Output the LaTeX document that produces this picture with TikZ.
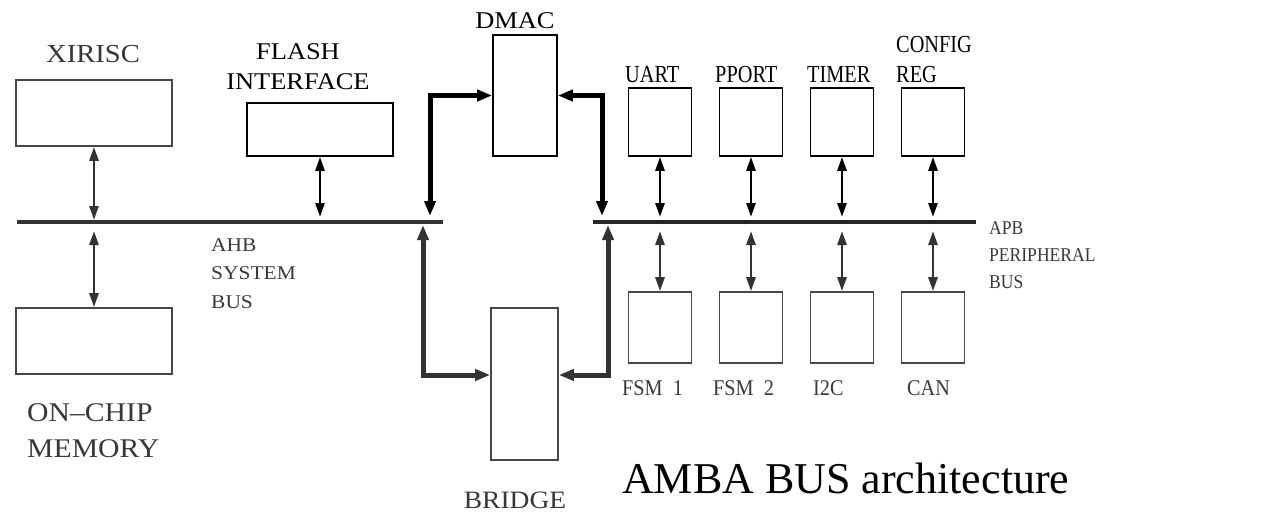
\documentclass[tikz,border=0pt]{standalone}
\usepackage{fontspec}
\setmainfont{Liberation Serif}
\newfontfamily\lblfont[FakeStretch=1.1]{Liberation Serif}
\newfontfamily\rightfont[FakeStretch=0.9]{Liberation Serif}
\newfontfamily\topfont[FakeStretch=0.83]{Liberation Serif}
\usetikzlibrary{arrows.meta, positioning}
\tikzset{
    base/.style = {draw=black, line width=1.6pt, inner sep=0pt},
    % Blocks
    block/.style     = {base, fill=white},
    grayblock/.style = {base, draw=black!72},
    % Texts
    lbl/.style     = {inner sep=0pt, align=left, font=\lblfont\fontsize{24}{30}\selectfont},
    graylbl/.style = {lbl, text=black!78},
    buslbl/.style  = {graylbl, font=\lblfont\fontsize{19.5}{28.5}\selectfont},
    periph/.style  = {lbl, anchor=base west, font=\topfont\fontsize{24.5}{30}\selectfont},
    fsmlbl/.style  = {graylbl, anchor=base west, font=\rightfont\fontsize{22.5}{30}\selectfont},
    % Edges
    bus/.style  = {line width=4pt},
    link/.style = {line width=2.6pt, {Triangle[length=14pt,width=9pt]}-{Triangle[length=14pt,width=9pt]}},
    wide/.style = {line width=5pt, {Triangle[length=15pt,width=11pt]}-{Triangle[length=15pt,width=11pt]}}
}

\begin{document}
\begin{tikzpicture}[x=1pt, y=-1pt]
    \useasboundingbox (0,0) rectangle (1266,520);

    % Buses
    \coordinate (ahbW) at (17,222);
    \coordinate (ahbE) at (443,222);
    \coordinate (apbW) at (593,222);
    \coordinate (apbE) at (976,222);
    \draw [bus, black!80] (ahbW) -- (ahbE);
    \draw [bus, black!85] (apbW) -- (apbE);

    % AHB side
    \node (xirisc) [grayblock, minimum width=156pt, minimum height=66pt] at (94,113) {};
    \node (memory) [grayblock, minimum width=156pt, minimum height=66pt] at (94,341) {};
    \node (flash)  [block, minimum width=146pt, minimum height=53pt] at (320,129.5) {};
    \node (dmac)   [block, minimum width=64pt, minimum height=121pt] at (525,95.5) {};
    \node (bridge) [grayblock, minimum width=67pt, minimum height=152pt] at (524.5,384) {};

    % APB side
    \node (uart)   [block, minimum width=63pt, minimum height=68pt] at (660,122) {};
    \node (pport)  [block, minimum width=63pt, minimum height=68pt] at (751,122) {};
    \node (timer)  [block, minimum width=63pt, minimum height=68pt] at (842,122) {};
    \node (config) [block, minimum width=63pt, minimum height=68pt] at (933,122) {};
    \node (fsma)   [grayblock, minimum width=63pt, minimum height=71pt] at (660,327.5) {};
    \node (fsmb)   [grayblock, minimum width=63pt, minimum height=71pt] at (751,327.5) {};
    \node (iic)    [grayblock, minimum width=63pt, minimum height=71pt] at (842,327.5) {};
    \node (can)    [grayblock, minimum width=63pt, minimum height=71pt] at (933,327.5) {};

    % Labels
    \node (xiriscL) [graylbl, anchor=base, font=\lblfont\fontsize{26}{30}\selectfont] at (93,62) {XIRISC};
    \node (flashL)  [lbl, anchor=north, align=center] at (298,43) {FLASH\\INTERFACE};
    \node (dmacL)   [lbl, anchor=base, font=\lblfont\fontsize{24}{30}\selectfont] at (515,28) {DMAC};
    \node (uartL)   [periph] at (625,82) {UART};
    \node (pportL)  [periph] at (715,82) {PPORT};
    \node (timerL)  [periph] at (807,82) {TIMER};
    \node (configL) [periph, anchor=north west] at (896,36) {CONFIG\\REG};
    \node (ahbL)    [buslbl, anchor=north west] at (211,238) {AHB\\SYSTEM\\BUS};
    \node (apbL)    [buslbl, anchor=north west, font=\rightfont\fontsize{19.5}{27}\selectfont] at (989,221) {APB\\PERIPHERAL\\BUS};
    \node (memoryL) [graylbl, anchor=north west, font=\lblfont\fontsize{27}{36.5}\selectfont] at (27,403) {ON–CHIP\\MEMORY};
    \node (bridgeL) [graylbl, anchor=base, font=\lblfont\fontsize{25}{30}\selectfont] at (515,508) {BRIDGE};
    \node (fsmaL)   [fsmlbl] at (622,395) {FSM\ \ 1};
    \node (fsmbL)   [fsmlbl] at (713,395) {FSM\ \ 2};
    \node (iicL)    [fsmlbl] at (813,395) {I2C};
    \node (canL)    [fsmlbl] at (907,395) {CAN};
    \node (title)   [inner sep=0pt, anchor=base west, font=\fontsize{44}{50}\selectfont] at (622,493) {AMBA BUS architecture};

    % Edges to the AHB bus
    \draw [link, black!80] (xirisc.south) -- ([yshift=2pt]xirisc.south |- ahbW);
    \draw [link, black!80] ([yshift=-9pt]memory.north |- ahbW) -- (memory.north);
    \draw [link] (flash.south) -- ([yshift=5pt]flash.south |- ahbW);

    % Edges to the APB bus
    \draw [link] (uart.south)   -- ([yshift=5pt]uart.south |- apbW);
    \draw [link] (pport.south)  -- ([yshift=5pt]pport.south |- apbW);
    \draw [link] (timer.south)  -- ([yshift=5pt]timer.south |- apbW);
    \draw [link] (config.south) -- ([yshift=5pt]config.south |- apbW);
    \draw [link, black!80] ([yshift=-9pt]fsma.north |- apbW) -- (fsma.north);
    \draw [link, black!80] ([yshift=-9pt]fsmb.north |- apbW) -- (fsmb.north);
    \draw [link, black!80] ([yshift=-9pt]iic.north |- apbW)  -- (iic.north);
    \draw [link, black!80] ([yshift=-9pt]can.north |- apbW)  -- (can.north);

    % DMAC and bridge
    \coordinate (dmacW) at (430,216);
    \coordinate (dmacE) at (602,216);
    \coordinate (bridgeW) at (423,225);
    \coordinate (bridgeE) at (608,225);
    \draw [wide] (dmacW) |- (dmac.west);
    \draw [wide] (dmacE) |- (dmac.east);
    \draw [wide, black!80] (bridgeW) |- ([yshift=9pt]bridge.west);
    \draw [wide, black!80] (bridgeE) |- ([yshift=9pt]bridge.east);
\end{tikzpicture}
\end{document}
